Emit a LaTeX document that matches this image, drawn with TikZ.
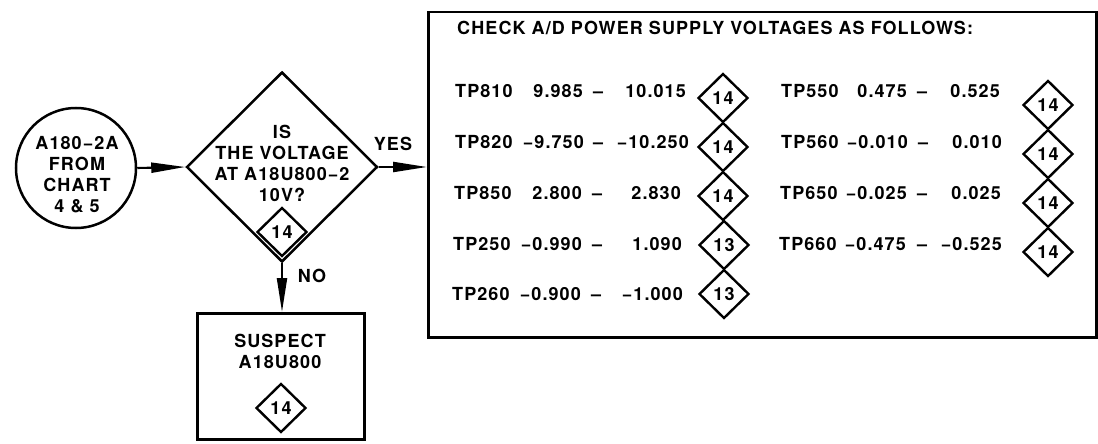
\documentclass[tikz,border=0pt]{standalone}
\usepackage{fontspec}
\setmainfont[LetterSpace=6]{TeX Gyre Heros}
\usetikzlibrary{shapes.geometric,arrows.meta}
\begin{document}
\begin{tikzpicture}[x=1pt,y=-1pt,
  txt/.style={font=\fontsize{18}{21}\selectfont\bfseries, inner sep=0pt, align=center},
  ln/.style={line width=2.5pt},
  sdia/.style={draw, line width=2.4pt, shape=diamond, minimum width=50pt, minimum height=49pt, inner sep=0pt, font=\fontsize{18}{18}\selectfont\bfseries},
  arr/.style={line width=2.1pt, -{Triangle[length=34pt,width=10pt]}},
  tw/.style={txt, anchor=base west},
  te/.style={txt, anchor=base east},
  tc/.style={txt, anchor=base},
]
\useasboundingbox (0,0) rectangle (1098,444);

% start circle
\node[draw, ln, circle, minimum size=120pt, inner sep=0pt] (start) at (76,168) {};
\node[txt] (startt) at (77,175) {A180−2A\\FROM\\CHART\\4 \& 5};

% decision
\node[draw, ln, shape=diamond, minimum width=191pt, minimum height=190pt, inner sep=0pt] (dec) at (282,167) {};
\node[txt] (dect) at (282,163.5) {IS\\THE VOLTAGE\\AT A18U800−2\\10V?};
\node[sdia] (d0) at (282,232) {\raisebox{-2pt}{14}};

% suspect box
\node[draw, ln, minimum width=167pt, minimum height=126pt, anchor=north west, inner sep=0pt] (susp) at (196,312) {};
\node[txt] (suspt) at (280,351) {SUSPECT\\A18U800};
\node[sdia] (d1) at (281,408) {\raisebox{-2pt}{14}};

% big box
\node[draw, ln, minimum width=668pt, minimum height=325pt, anchor=north west, inner sep=0pt] (box) at (427,11) {};
\node[tw] (title) at (457,35) {CHECK A/D POWER SUPPLY VOLTAGES AS FOLLOWS:};

% left column
\node[tw] (l1a) at (455,98) {TP810};
\node[te] (l1b) at (583,98) {9.985};
\node[tc] (l1c) at (598,98) {–};
\node[te] (l1d) at (686,98) {10.015};
\node[sdia] (ld1) at (723,98) {\raisebox{-3pt}{14}};

\node[tw] (l2a) at (455,148) {TP820};
\node[te] (l2b) at (584,148) {−9.750};
\node[tc] (l2c) at (598,148) {–};
\node[te] (l2d) at (689,148) {−10.250};
\node[sdia] (ld2) at (723,147) {\raisebox{-3pt}{14}};

\node[tw] (l3a) at (454,199) {TP850};
\node[te] (l3b) at (582,199) {2.800};
\node[tc] (l3c) at (597,199) {–};
\node[te] (l3d) at (681,199) {2.830};
\node[sdia] (ld3) at (723,196) {\raisebox{-3pt}{14}};

\node[tw] (l4a) at (453,250) {TP250};
\node[te] (l4b) at (582,250) {−0.990};
\node[tc] (l4c) at (597,250) {–};
\node[te] (l4d) at (682,250) {1.090};
\node[sdia] (ld4) at (724,245) {\raisebox{-1pt}{13}};

\node[tw] (l5a) at (452,300) {TP260};
\node[te] (l5b) at (581,300) {−0.900};
\node[tc] (l5c) at (596,300) {–};
\node[te] (l5d) at (683,300) {−1.000};
\node[sdia] (ld5) at (724,294) {\raisebox{-1pt}{13}};

% right column
\node[tw] (r1a) at (781,98) {TP550};
\node[te] (r1b) at (907,98) {0.475};
\node[tc] (r1c) at (922,98) {–};
\node[te] (r1d) at (1000,98) {0.525};
\node[sdia] (rd1) at (1048,105) {\raisebox{-3pt}{14}};

\node[tw] (r2a) at (781,148) {TP560};
\node[te] (r2b) at (908,148) {−0.010};
\node[tc] (r2c) at (923,148) {–};
\node[te] (r2d) at (1002,148) {0.010};
\node[sdia] (rd2) at (1048,154) {\raisebox{-3pt}{14}};

\node[tw] (r3a) at (780,199) {TP650};
\node[te] (r3b) at (907,199) {−0.025};
\node[tc] (r3c) at (922,199) {–};
\node[te] (r3d) at (1001,199) {0.025};
\node[sdia] (rd3) at (1048,203) {\raisebox{-3pt}{14}};

\node[tw] (r4a) at (779,250) {TP660};
\node[te] (r4b) at (906,250) {−0.475};
\node[tc] (r4c) at (922,250) {–};
\node[te] (r4d) at (1002,250) {−0.525};
\node[sdia] (rd4) at (1048,252) {\raisebox{-3pt}{14}};

% connectors
\draw[arr] (start.east) -- (dec.west);
\draw[arr] (dec.east) -- (dec.east -| box.west);
\draw[arr] (dec.south) -- (dec.south |- susp.north);
\node[txt] (yes) at (393,144) {YES};
\node[txt] (no) at (312,276) {NO};
\end{tikzpicture}
\end{document}
